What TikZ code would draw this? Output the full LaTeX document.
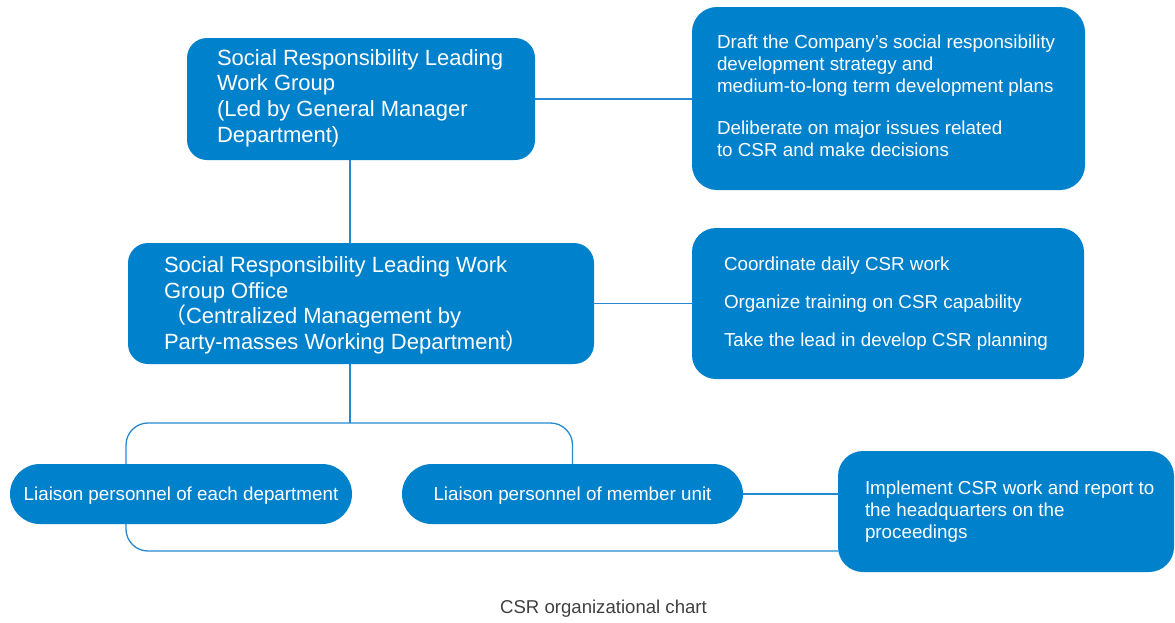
\documentclass[tikz,border=0pt]{standalone}
\usepackage{fontspec}
\setmainfont{Liberation Sans}
\newfontfamily\cjk{Noto Sans CJK SC}
\usetikzlibrary{backgrounds}
\definecolor{boxblue}{RGB}{0,129,204}
\definecolor{lineblue}{RGB}{38,137,207}
\definecolor{capgray}{RGB}{64,64,64}
\begin{document}
\begin{tikzpicture}[x=1pt,y=-1pt,
  box/.style={draw=none, fill=boxblue, rectangle, inner sep=0pt},
  txt/.style={text=white, align=left, inner sep=0pt, anchor=west},
  big/.style={font=\fontsize{22}{25.6}\selectfont},
  small/.style={font=\fontsize{18.8}{22}\selectfont},
  conn/.style={draw=lineblue, line width=1.3pt}]
\useasboundingbox (0,0) rectangle (1175,622);

% boxes
\node[box, rounded corners=20pt, minimum width=348pt, minimum height=122pt] (b1) at (361,99) {};
\node[box, rounded corners=25pt, minimum width=393pt, minimum height=183pt] (r1) at (888.5,98.5) {};
\node[box, rounded corners=20pt, minimum width=466pt, minimum height=121pt] (b2) at (361,303.5) {};
\node[box, rounded corners=24pt, minimum width=392pt, minimum height=151pt] (r2) at (888,303.5) {};
\node[box, rounded corners=30pt, minimum width=342pt, minimum height=60pt, text=white, small, text depth=0pt] (l1) at (181,494) {Liaison personnel of each department};
\node[box, rounded corners=30pt, minimum width=341pt, minimum height=60pt, text=white, small, text depth=0pt] (l2) at (572.5,494) {Liaison personnel of member unit};
\node[box, rounded corners=25pt, minimum width=336pt, minimum height=121pt] (r3) at (1006,511.5) {};

% texts
\node[txt, big] (t1) at ([xshift=30pt,yshift=1pt]b1.west) {Social Responsibility Leading\\Work Group\\(Led by General Manager\\Department)};
\node[txt, small] (tr1) at ([xshift=25pt,yshift=3pt]r1.west) {Draft the Company’s social responsibility\\development strategy and\\medium-to-long term development plans\\[20pt]Deliberate on major issues related\\to CSR and make decisions};
\node[txt, big] (t2) at ([xshift=36pt,yshift=-2pt]b2.west) {Social Responsibility Leading Work\\Group Office\\{\cjk （}Centralized Management by\\Party-masses Working Department{\cjk ）}};
\node[txt, small] (tr2) at ([xshift=32pt,yshift=0pt]r2.west) {Coordinate daily CSR work\\[16pt]Organize training on CSR capability\\[16pt]Take the lead in develop CSR planning};
\node[txt, small] (tr3) at ([xshift=27pt,yshift=0pt]r3.west) {Implement CSR work and report to\\the headquarters on the\\proceedings};

% caption
\node[text=capgray, font=\fontsize{18.6}{22}\selectfont, inner sep=0pt] (cap) at (603.5,609) {CSR organizational chart};

% connectors
\coordinate (jn) at (350,423);
\coordinate (lc) at (126,423);
\coordinate (bl) at (126,551);
\begin{scope}[on background layer]
\draw[conn] (b1.east) -- (b1.east -| r1.west);
\draw[conn] (b2.east) -- (b2.east -| r2.west);
\draw[conn] (l2.east) -- (l2.east -| r3.west);
\draw[conn] (b1.south -| jn) -- (b2.north -| jn);
\draw[conn] (b2.south -| jn) -- (jn);
\draw[conn, rounded corners=22pt] (l2.north) |- (lc) -- (bl) -- (bl -| r3.west);
\end{scope}
\end{tikzpicture}
\end{document}
